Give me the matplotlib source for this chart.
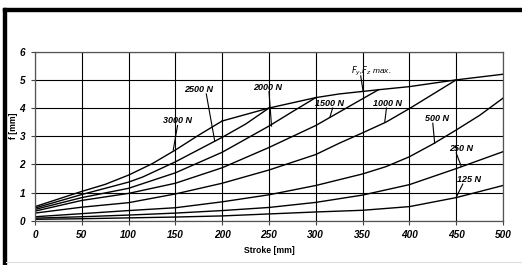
import matplotlib
matplotlib.use("Agg")
import matplotlib.pyplot as plt
from matplotlib.patches import Rectangle
from matplotlib.lines import Line2D

plt.rcParams['font.family'] = ['Liberation Sans', 'DejaVu Sans']

# Load curves: stroke [mm] -> deflection f [mm]
x_3000 = [0, 50, 75, 100, 125, 150, 175, 200]
f_3000 = [0.50, 1.04, 1.29, 1.62, 2.02, 2.51, 3.04, 3.54]

x_2500 = [0, 50, 100, 115, 150, 200, 225, 250]
f_2500 = [0.45, 0.93, 1.37, 1.55, 2.09, 2.96, 3.43, 4.00]

x_2000 = [0, 50, 100, 150, 200, 250, 275, 300]
f_2000 = [0.40, 0.82, 1.15, 1.70, 2.43, 3.36, 3.87, 4.37]

x_1500 = [0, 50, 100, 150, 200, 250, 300, 350, 367]
f_1500 = [0.34, 0.72, 0.97, 1.33, 1.88, 2.60, 3.38, 4.33, 4.65]

x_1000 = [0, 50, 100, 150, 200, 250, 300, 325, 350, 375, 400, 425, 450]
f_1000 = [0.27, 0.48, 0.64, 0.95, 1.33, 1.80, 2.35, 2.75, 3.12, 3.50, 3.98, 4.49, 5.00]

x_500 = [0, 50, 100, 150, 200, 250, 300, 350, 375, 400, 425, 450, 475, 500]
f_500 = [0.14, 0.25, 0.36, 0.46, 0.67, 0.92, 1.25, 1.66, 1.92, 2.27, 2.72, 3.22, 3.74, 4.35]

x_250 = [0, 50, 100, 150, 200, 250, 300, 350, 400, 450, 500]
f_250 = [0.09, 0.14, 0.20, 0.27, 0.36, 0.47, 0.65, 0.91, 1.28, 1.85, 2.45]

x_125 = [0, 50, 100, 150, 200, 250, 300, 350, 400, 450, 500]
f_125 = [0.05, 0.07, 0.10, 0.13, 0.17, 0.24, 0.31, 0.37, 0.50, 0.82, 1.25]

# Envelope Fy, Fz max.
x_max = [200, 250, 300, 325, 367, 400, 450, 500]
f_max = [3.54, 4.00, 4.37, 4.50, 4.65, 4.76, 5.00, 5.20]

curves = [(x_3000, f_3000), (x_2500, f_2500), (x_2000, f_2000), (x_1500, f_1500),
          (x_1000, f_1000), (x_500, f_500), (x_250, f_250), (x_125, f_125),
          (x_max, f_max)]

# Labels: text, text position (x, f), pointer end (x, f)
labels = ["3000 N", "2500 N", "2000 N", "1500 N", "1000 N", "500 N", "250 N", "125 N"]
label_pos = [(152, 3.55), (175, 4.66), (249, 4.72), (315, 4.17), (377, 4.17),
             (429, 3.63), (455, 2.57), (464, 1.47)]
label_tip = [(147.7, 2.51), (192, 2.83), (252.7, 3.36), (315, 3.67), (373.7, 3.51),
             (427, 2.75), (455.5, 1.92), (450, 0.83)]
label_base = [(152.3, 3.38), (183, 4.50), (250, 4.58), (318, 4.00), (375.5, 4.00),
              (425, 3.46), (450, 2.40), (457, 1.30)]

x_ticks = [0, 50, 100, 150, 200, 250, 300, 350, 400, 450, 500]
y_ticks = [0, 1, 2, 3, 4, 5, 6]

fig = plt.figure(figsize=(5.22, 2.65), dpi=100)
ax = fig.add_axes([35 / 522, 1 - 220.7 / 265, 468 / 522, 169 / 265])

for xs, fs in curves:
    ax.plot(xs, fs, color='black', lw=1.0, solid_joinstyle='miter')

for t, p, tip, base in zip(labels, label_pos, label_tip, label_base):
    ax.text(p[0], p[1], t, fontsize=6.5, fontweight='bold', fontstyle='italic',
            ha='center', va='center')
    ax.plot([base[0], tip[0]], [base[1], tip[1]], color='black', lw=0.8)

ax.text(359, 5.29, r"$F_y$,$F_z$ max.", fontsize=6, fontstyle='italic',
        ha='center', va='center')
ax.plot([348, 350.5], [5.14, 4.6], color='black', lw=0.8)

ax.set_xlim(0, 500)
ax.set_ylim(0, 6)
ax.set_xticks(x_ticks)
ax.set_yticks(y_ticks)
ax.grid(True, color='black', lw=0.8)
ax.set_axisbelow(True)
for s in ax.spines.values():
    s.set_color('#555555')
    s.set_linewidth(0.9)
ax.tick_params(direction='out', length=3, width=0.8, color='#444444', pad=4)
for lab in ax.get_xticklabels() + ax.get_yticklabels():
    lab.set_fontweight('bold')
    lab.set_fontstyle('italic')
    lab.set_fontsize(7.2)
ax.set_xlabel("Stroke [mm]", fontsize=6.2, fontweight='bold', labelpad=4)
ax.set_ylabel("f [mm]", fontsize=6.2, fontweight='bold')
ax.yaxis.set_label_coords(-0.037, 0.56)

# Frame borders
fig.patches.append(Rectangle((2.7 / 522, 0), 2.8 / 522, 1 - 7.7 / 265,
                             transform=fig.transFigure, color='black'))
fig.patches.append(Rectangle((2.7 / 522, 1 - 10.7 / 265), 1 - 2.7 / 522, 3 / 265,
                             transform=fig.transFigure, color='black'))
fig.lines.append(Line2D([5.5 / 522, 1], [1 - 262 / 265, 1 - 262 / 265],
                        transform=fig.transFigure, color='#dddddd', lw=0.8))

fig.savefig("out.png", dpi=100)
